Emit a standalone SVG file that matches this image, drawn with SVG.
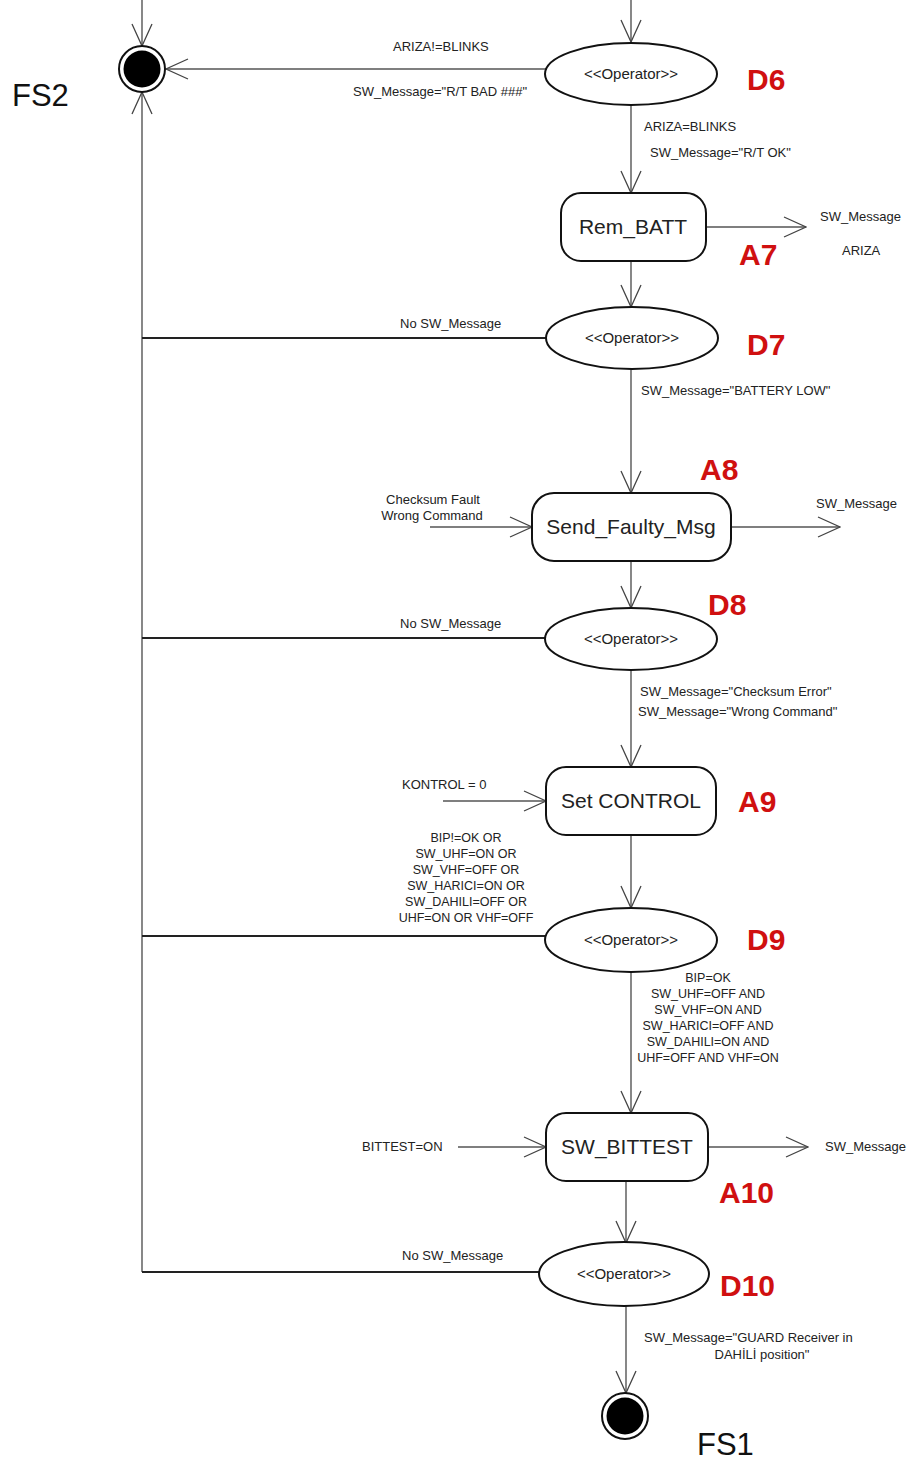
<svg xmlns="http://www.w3.org/2000/svg" width="911" height="1461" viewBox="0 0 911 1461">
<style>
.ln{stroke:#555;stroke-width:1.4;fill:none}
.dk{stroke:#222;stroke-width:2;fill:none}
.op{fill:#fff;stroke:#111;stroke-width:2}
.bx{fill:#fff;stroke:#111;stroke-width:2}
.t{font-family:"Liberation Sans",Arial,sans-serif;fill:#222}
.s{font-size:13px}
.m{font-size:12.5px}
.o{font-size:15px}
.b{font-size:21px}
.r{font-family:"Liberation Sans",Arial,sans-serif;font-weight:bold;font-size:30px;fill:#d01010}
.fs{font-family:"Liberation Sans",Arial,sans-serif;font-size:31px;fill:#111}
</style>
<defs>
<marker id="arr" viewBox="0 0 24 22" refX="23" refY="11" markerWidth="24" markerHeight="22" markerUnits="userSpaceOnUse" orient="auto">
<path d="M1,1 L23,11 L1,21" fill="none" stroke="#444" stroke-width="1.3"/>
</marker>
</defs>
<rect width="911" height="1461" fill="#fff"/>

<g id="connectors">
<line class="ln" x1="142" y1="0" x2="142" y2="46" marker-end="url(#arr)"/>
<line class="ln" x1="142" y1="1272" x2="142" y2="92" marker-end="url(#arr)"/>
<line class="ln" x1="546" y1="69" x2="166" y2="69" marker-end="url(#arr)"/>
<line class="ln" x1="631" y1="0" x2="631" y2="42" marker-end="url(#arr)"/>
<line class="ln" x1="631" y1="105" x2="631" y2="193" marker-end="url(#arr)"/>
<line class="ln" x1="706" y1="227" x2="806" y2="227" marker-end="url(#arr)"/>
<line class="ln" x1="631" y1="261" x2="631" y2="307" marker-end="url(#arr)"/>
<line class="dk" x1="546" y1="338" x2="142" y2="338"/>
<line class="ln" x1="631" y1="369" x2="631" y2="493" marker-end="url(#arr)"/>
<line class="ln" x1="430" y1="527" x2="532" y2="527" marker-end="url(#arr)"/>
<line class="ln" x1="731" y1="527" x2="840" y2="527" marker-end="url(#arr)"/>
<line class="ln" x1="631" y1="561" x2="631" y2="608" marker-end="url(#arr)"/>
<line class="dk" x1="546" y1="638" x2="142" y2="638"/>
<line class="ln" x1="631" y1="670" x2="631" y2="767" marker-end="url(#arr)"/>
<line class="ln" x1="443" y1="801" x2="546" y2="801" marker-end="url(#arr)"/>
<line class="ln" x1="631" y1="835" x2="631" y2="908" marker-end="url(#arr)"/>
<line class="dk" x1="547" y1="936" x2="142" y2="936"/>
<line class="ln" x1="631" y1="972" x2="631" y2="1113" marker-end="url(#arr)"/>
<line class="ln" x1="458" y1="1147" x2="546" y2="1147" marker-end="url(#arr)"/>
<line class="ln" x1="708" y1="1147" x2="808" y2="1147" marker-end="url(#arr)"/>
<line class="ln" x1="626" y1="1181" x2="626" y2="1243" marker-end="url(#arr)"/>
<line class="dk" x1="540" y1="1272" x2="142" y2="1272"/>
<line class="ln" x1="626" y1="1306" x2="626" y2="1393" marker-end="url(#arr)"/>
</g>

<g id="FS2">
<circle cx="142" cy="69" r="23" fill="#fff" stroke="#111" stroke-width="2"/>
<circle cx="142" cy="69" r="18.5" fill="#000"/>
<text class="fs" x="12" y="106">FS2</text>
</g>

<g id="D6">
<ellipse class="op" cx="631" cy="74" rx="86" ry="31"/>
<text class="t o" x="631" y="79" text-anchor="middle">&lt;&lt;Operator&gt;&gt;</text>
<text class="r" x="747" y="90">D6</text>
<text class="t s" x="393" y="51">ARIZA!=BLINKS</text>
<text class="t s" x="353" y="96">SW_Message="R/T BAD ###"</text>
<text class="t s" x="644" y="131">ARIZA=BLINKS</text>
<text class="t s" x="650" y="157">SW_Message="R/T OK"</text>
</g>

<g id="A7">
<rect class="bx" x="561" y="193" width="145" height="68" rx="20"/>
<text class="t b" x="633" y="234" text-anchor="middle">Rem_BATT</text>
<text class="r" x="739" y="265">A7</text>
<text class="t s" x="820" y="221">SW_Message</text>
<text class="t s" x="842" y="255">ARIZA</text>
</g>

<g id="D7">
<ellipse class="op" cx="632" cy="338" rx="86" ry="31"/>
<text class="t o" x="632" y="343" text-anchor="middle">&lt;&lt;Operator&gt;&gt;</text>
<text class="r" x="747" y="355">D7</text>
<text class="t s" x="400" y="328">No SW_Message</text>
<text class="t s" x="641" y="395">SW_Message="BATTERY LOW"</text>
</g>

<g id="A8">
<rect class="bx" x="532" y="493" width="199" height="68" rx="22"/>
<text class="t b" x="631" y="534" text-anchor="middle">Send_Faulty_Msg</text>
<text class="r" x="700" y="480">A8</text>
<text class="t s" x="433" y="504" text-anchor="middle">Checksum Fault</text>
<text class="t s" x="432" y="520" text-anchor="middle">Wrong Command</text>
<text class="t s" x="816" y="508">SW_Message</text>
</g>

<g id="D8">
<ellipse class="op" cx="631" cy="639" rx="86" ry="31"/>
<text class="t o" x="631" y="644" text-anchor="middle">&lt;&lt;Operator&gt;&gt;</text>
<text class="r" x="708" y="615">D8</text>
<text class="t s" x="400" y="628">No SW_Message</text>
<text class="t s" x="640" y="696">SW_Message="Checksum Error"</text>
<text class="t s" x="638" y="716">SW_Message="Wrong Command"</text>
</g>

<g id="A9">
<rect class="bx" x="546" y="767" width="170" height="68" rx="20"/>
<text class="t b" x="631" y="808" text-anchor="middle">Set CONTROL</text>
<text class="r" x="738" y="812">A9</text>
<text class="t s" x="402" y="789">KONTROL = 0</text>
</g>

<g id="D9">
<ellipse class="op" cx="631" cy="940" rx="86" ry="32"/>
<text class="t o" x="631" y="945" text-anchor="middle">&lt;&lt;Operator&gt;&gt;</text>
<text class="r" x="747" y="950">D9</text>
<g class="t m" text-anchor="middle">
<text x="466" y="842">BIP!=OK OR</text>
<text x="466" y="858">SW_UHF=ON OR</text>
<text x="466" y="874">SW_VHF=OFF OR</text>
<text x="466" y="890">SW_HARICI=ON OR</text>
<text x="466" y="906">SW_DAHILI=OFF OR</text>
<text x="466" y="922">UHF=ON OR VHF=OFF</text>
<text x="708" y="982">BIP=OK</text>
<text x="708" y="998">SW_UHF=OFF AND</text>
<text x="708" y="1014">SW_VHF=ON AND</text>
<text x="708" y="1030">SW_HARICI=OFF AND</text>
<text x="708" y="1046">SW_DAHILI=ON AND</text>
<text x="708" y="1062">UHF=OFF AND VHF=ON</text>
</g>
</g>

<g id="A10">
<rect class="bx" x="546" y="1113" width="162" height="68" rx="20"/>
<text class="t b" x="627" y="1154" text-anchor="middle">SW_BITTEST</text>
<text class="r" x="719" y="1203">A10</text>
<text class="t s" x="362" y="1151">BITTEST=ON</text>
<text class="t s" x="825" y="1151">SW_Message</text>
</g>

<g id="D10">
<ellipse class="op" cx="624" cy="1274" rx="85" ry="32"/>
<text class="t o" x="624" y="1279" text-anchor="middle">&lt;&lt;Operator&gt;&gt;</text>
<text class="r" x="720" y="1296">D10</text>
<text class="t s" x="402" y="1260">No SW_Message</text>
<text class="t s" x="644" y="1342">SW_Message="GUARD Receiver in</text>
<text class="t s" x="762" y="1359" text-anchor="middle">DAHİLİ position"</text>
</g>

<g id="FS1">
<circle cx="625" cy="1416" r="23" fill="#fff" stroke="#111" stroke-width="2"/>
<circle cx="625" cy="1416" r="18.5" fill="#000"/>
<text class="fs" x="697" y="1455">FS1</text>
</g>
</svg>
